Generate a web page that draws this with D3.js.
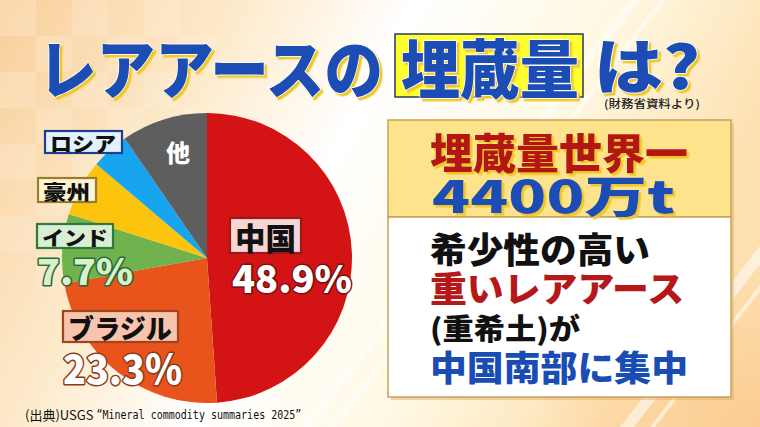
<!DOCTYPE html>
<html><head><meta charset="utf-8">
<script src="https://cdn.jsdelivr.net/npm/d3@7"></script>
<style>html,body{margin:0;padding:0;overflow:hidden;background:#fff}svg{display:block}</style>
</head><body>
<svg id="c" width="760" height="427"></svg>
<script>
// ---- data ----
const categories = ["中国", "ブラジル", "インド", "豪州", "ロシア", "他"];
const values = [48.9, 23.3, 7.7, 6.3, 4.2, 9.6];
const sliceColors = ["#d41414", "#e8541c", "#6fb24e", "#fcc40c", "#17a5ef", "#5e5e5e"];
const titleParts = ["レアアースの", "埋蔵量", "は?"];
const sourceNote = "(財務省資料より)";
const panelLines = ["埋蔵量世界一", "4400万t", "希少性の高い", "重いレアアース", "(重希土)が", "中国南部に集中"];
const footer = ["(出典)USGS ", "“Mineral commodity summaries 2025”"];

const F = "'Noto Sans CJK JP', 'Noto Sans', sans-serif";
const svg = d3.select("#c");
const defs = svg.append("defs");

// yellow offset shadow filter
const sh = defs.append("filter").attr("id", "ysh").attr("x", -0.1).attr("y", -0.1).attr("width", 1.3).attr("height", 1.3);
sh.append("feDropShadow").attr("dx", 2.5).attr("dy", 2.5).attr("stdDeviation", 0.3)
  .attr("flood-color", "#f0c828").attr("flood-opacity", 1);

// ---- background ----
const bg = defs.append("linearGradient").attr("id", "bg").attr("x1", 0).attr("y1", 0).attr("x2", 1).attr("y2", 0.3);
[["0", "#f9cf9c"], ["0.3", "#fdebcd"], ["0.5", "#ffffff"], ["0.75", "#fff8e2"], ["1", "#fde0b0"]]
  .forEach(([o, c]) => bg.append("stop").attr("offset", o).attr("stop-color", c));
svg.append("rect").attr("width", 760).attr("height", 427).attr("fill", "url(#bg)");
const br = defs.append("radialGradient").attr("id", "br").attr("cx", 1).attr("cy", 1).attr("r", 0.6);
br.append("stop").attr("offset", 0).attr("stop-color", "#fbc98e").attr("stop-opacity", 0.9);
br.append("stop").attr("offset", 1).attr("stop-color", "#fbc98e").attr("stop-opacity", 0);
svg.append("rect").attr("x", 380).attr("y", 150).attr("width", 380).attr("height", 277).attr("fill", "url(#br)");
// checker squares on the left
const sq = svg.append("g").attr("opacity", 0.25);
for (let i = 0; i < 6; i++) for (let j = 0; j < 8; j++) {
  if ((i + j) % 2 === 0) sq.append("rect").attr("x", i * 36).attr("y", j * 36).attr("width", 36).attr("height", 36).attr("fill", "#fff3e0");
}
// diagonal light stripes
const st = svg.append("g").attr("opacity", 0.55);
[[300, 10], [330, 6], [620, 14], [650, 5]].forEach(([x, w]) => {
  st.append("polygon").attr("points", `${x},427 ${x + w},427 ${x + w + 330},0 ${x + 330},0`).attr("fill", "#ffffff");
});

// ---- helper ----
function txt(g, x, y, s, o) {
  const t = g.append("text").attr("x", x).attr("y", y).text(s)
    .attr("font-family", o.family || F).attr("font-weight", o.weight || 900)
    .attr("font-size", o.size).attr("fill", o.fill || "#000")
    .attr("dominant-baseline", "central");
  if (o.len) t.attr("textLength", o.len).attr("lengthAdjust", "spacingAndGlyphs");
  if (o.stroke) t.attr("stroke", o.stroke).attr("stroke-width", o.sw || 2).attr("stroke-linejoin", "round").attr("paint-order", "stroke");
  if (o.anchor) t.attr("text-anchor", o.anchor);
  if (o.filter) t.attr("filter", o.filter);
  return t;
}

// ---- title ----
const tg = svg.append("g");
function titleText(x, y, s, len, size) {
  txt(tg, x, y, s, {size, len, fill: "#1a4db4", stroke: "#ffffff", sw: 1.5, filter: "url(#ysh)"});
}
titleText(38, 65, titleParts[0], 345, 64);
tg.append("rect").attr("x", 395).attr("y", 34).attr("width", 188).attr("height", 63)
  .attr("fill", "#ffff30").attr("stroke", "#2a3a5a").attr("stroke-width", 1.5);
titleText(401, 65, titleParts[1], 178, 64);
titleText(594, 62, titleParts[2], 106, 60);
txt(tg, 604, 103, sourceNote, {size: 11, weight: 500, len: 96, fill: "#222"});

// ---- pie ----
const cx = 207, cy = 258, R = 145;
const pie = d3.pie().sort(null).value(d => d)(values);
const arc = d3.arc().innerRadius(0).outerRadius(R);
svg.append("g").attr("transform", `translate(${cx},${cy})`)
  .selectAll("path").data(pie).join("path")
  .attr("d", arc).attr("fill", (d, i) => sliceColors[i]);

// ---- pie labels ----
const lg = svg.append("g");
function boxLabel(x, y, w, h, s, fill, stroke, size, len) {
  lg.append("rect").attr("x", x).attr("y", y).attr("width", w).attr("height", h)
    .attr("fill", fill).attr("stroke", stroke).attr("stroke-width", 2.2);
  txt(lg, x + 5, y + h / 2 + 1, s, {size, len, fill: "#111"});
}
boxLabel(45, 131, 77, 22, categories[4], "#e2f1fc", "#1f3d8f", 20, 66);
txt(lg, 178, 151, categories[5], {size: 24, fill: "#fff", anchor: "middle"});
boxLabel(38, 178, 58, 24, categories[3], "#fdf4d2", "#9a7c2c", 20, 47);
boxLabel(37, 224, 76, 24, categories[2], "#d9eed2", "#2e7b3e", 20, 66);
txt(lg, 37, 269, values[2] + "%", {size: 36, len: 96, fill: "#d8f0cc", stroke: "#2a6a34", sw: 3});
boxLabel(63, 311, 115, 31, categories[1], "#f8c4ae", "#a0441c", 27, 104);
txt(lg, 63, 367, values[1] + "%", {size: 40, len: 119, fill: "#fff", stroke: "#8a3a18", sw: 3});
boxLabel(230, 218, 71, 35, categories[0], "#f8d6d6", "#9a1a1a", 31, 61);
txt(lg, 232, 276, values[0] + "%", {size: 38, len: 120, fill: "#fff", stroke: "#7a1010", sw: 3});

// ---- right panel ----
const pg = svg.append("g");
pg.append("rect").attr("x", 391).attr("y", 123).attr("width", 343).attr("height", 277).attr("fill", "#e0b070").attr("opacity", 0.5);
pg.append("rect").attr("x", 388).attr("y", 120).attr("width", 343).attr("height", 97)
  .attr("fill", "#fde38c").attr("stroke", "#c8a058").attr("stroke-width", 1.5);
pg.append("rect").attr("x", 388).attr("y", 217).attr("width", 343).attr("height", 180)
  .attr("fill", "#ffffff").attr("stroke", "#c8a058").attr("stroke-width", 1.5);
txt(pg, 430, 150, panelLines[0], {size: 42, len: 258, fill: "#b41818", filter: "url(#ysh)"});
txt(pg, 432, 194, panelLines[1], {size: 44, len: 243, fill: "#1a4db4", filter: "url(#ysh)"});
txt(pg, 430, 247, panelLines[2], {size: 35, len: 220, fill: "#111"});
txt(pg, 430, 286, panelLines[3], {size: 35, len: 254, fill: "#b41818"});
txt(pg, 430, 327, panelLines[4], {size: 29, len: 150, fill: "#111"});
txt(pg, 430, 365, panelLines[5], {size: 35, len: 258, fill: "#1a4db4"});

// ---- footer ----
const ft = svg.append("text").attr("x", 25).attr("y", 414).attr("dominant-baseline", "central")
  .attr("font-size", 13).attr("fill", "#111");
ft.append("tspan").attr("font-family", F).attr("font-weight", 400).text(footer[0]);
ft.append("tspan").attr("font-family", "'DejaVu Sans Mono', 'Liberation Mono', monospace").attr("font-size", 12.5)
  .attr("textLength", 205).attr("lengthAdjust", "spacingAndGlyphs").text(footer[1]);
</script>
</body></html>
